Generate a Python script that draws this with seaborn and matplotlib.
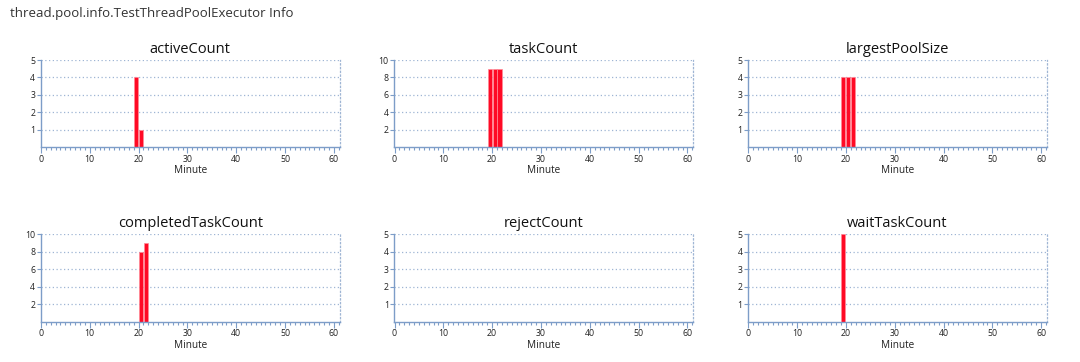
import matplotlib
matplotlib.use("Agg")
import matplotlib.pyplot as plt
from matplotlib.ticker import MultipleLocator, FixedLocator
import numpy as np
import pandas as pd
import seaborn as sns

sns.set_theme(style="white")
plt.rcParams['font.family'] = ['Open Sans', 'DejaVu Sans']

page_title = "thread.pool.info.TestThreadPoolExecutor Info"
panel_titles = ["activeCount", "taskCount", "largestPoolSize",
                "completedTaskCount", "rejectCount", "waitTaskCount"]

active_minutes = [19, 20]
active_values = [4, 1]
task_minutes = [19, 20, 21]
task_values = [9, 9, 9]
largest_minutes = [19, 20, 21]
largest_values = [4, 4, 4]
completed_minutes = [20, 21]
completed_values = [8, 9]
reject_minutes = []
reject_values = []
wait_minutes = [19]
wait_values = [5]

y_max = [5, 10, 5, 10, 5, 5]
y_ticks = [[1, 2, 3, 4, 5], [2, 4, 6, 8, 10], [1, 2, 3, 4, 5],
           [2, 4, 6, 8, 10], [1, 2, 3, 4, 5], [1, 2, 3, 4, 5]]
x_ticks = [0, 10, 20, 30, 40, 50, 60]
x_label = "Minute"

series = [(active_minutes, active_values), (task_minutes, task_values),
          (largest_minutes, largest_values), (completed_minutes, completed_values),
          (reject_minutes, reject_values), (wait_minutes, wait_values)]

W, H = 1080, 362
fig = plt.figure(figsize=(W / 100, H / 100), dpi=100)

lefts = [40.7, 394.3, 748.0]
width_px = 299.0
rows = [(60.0, 147.0), (234.3, 321.7)]

spine_c = "#7d9dc8"
grid_c = "#9fb5d4"
bar_c = "#ff0a25"

for i, (title, (mins, vals)) in enumerate(zip(panel_titles, series)):
    r, c = divmod(i, 3)
    top, bot = rows[r]
    ax = fig.add_axes([lefts[c] / W, (H - bot) / H, width_px / W, (bot - top) / H])
    df = pd.DataFrame({"minute": mins, "value": vals})
    if len(df):
        sns.histplot(data=df, x="minute", weights="value", binwidth=1, binrange=(0, 61),
                     shrink=0.83, color=bar_c, alpha=1, edgecolor="#ff8a98",
                     linewidth=0.5, ax=ax)
    ax.set_xlim(-0.05, 61.2)
    ax.set_ylim(0, y_max[i])
    ax.xaxis.set_major_locator(FixedLocator(x_ticks))
    ax.xaxis.set_minor_locator(MultipleLocator(1))
    ax.yaxis.set_major_locator(FixedLocator(y_ticks[i]))
    ax.grid(axis="y", linestyle=(0, (1, 2.0)), color=grid_c, linewidth=0.9)
    ax.set_axisbelow(True)
    ax.set_ylabel("")
    ax.set_xlabel(x_label, fontsize=7.2, labelpad=1, color="#222222")
    ax.set_title(title, fontsize=10.5, pad=5, color="#111111")
    for s in ["left", "bottom"]:
        ax.spines[s].set_color(spine_c)
        ax.spines[s].set_linewidth(1.0)
    ax.spines["top"].set_visible(False)
    ax.spines["right"].set_color(grid_c)
    ax.spines["right"].set_linestyle((0, (1, 2.0)))
    ax.spines["right"].set_linewidth(0.9)
    ax.tick_params(axis="x", which="major", direction="out", length=4, width=0.8,
                   color=spine_c, labelsize=6.3, pad=1.5, labelcolor="#222222", bottom=True)
    ax.tick_params(axis="x", which="minor", direction="out", length=2.5, width=0.8,
                   color=spine_c, bottom=True)
    ax.tick_params(axis="y", which="major", direction="out", length=3, width=0.8,
                   color=spine_c, labelsize=6.3, pad=1, labelcolor="#222222", left=True)

fig.text(10 / W, 1 - 14 / H, page_title, fontsize=9.5, color="#333333", va="center", ha="left")

fig.savefig("out.png", dpi=100, facecolor="white")
